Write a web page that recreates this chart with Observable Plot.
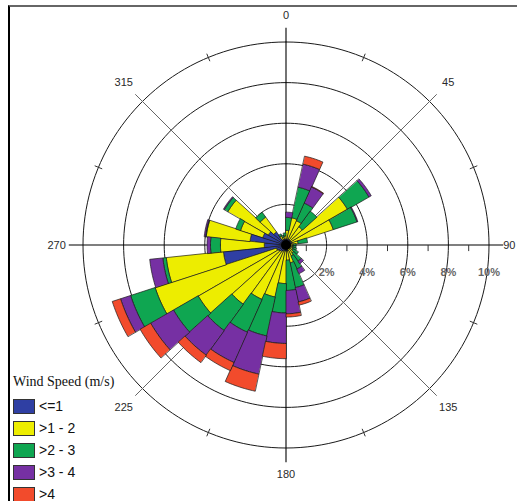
<!DOCTYPE html>
<html><head><meta charset="utf-8">
<script src="https://cdn.jsdelivr.net/npm/d3@7"></script>
<script src="https://cdn.jsdelivr.net/npm/@observablehq/plot@0.6"></script>
<style>
body{margin:0;background:#fff;}
#wrap{position:relative;width:517px;height:501px;overflow:hidden;background:#fff;}
#frame{position:absolute;left:8px;top:5px;right:-10px;bottom:-10px;border-left:2px solid #000;border-top:2px solid #666;pointer-events:none;}
#legend{position:absolute;left:13px;top:373px;font-family:"Liberation Sans",Arial,sans-serif;}
#legend .title{font-family:"Liberation Serif","Times New Roman",serif;font-size:14px;color:#111;height:22px;line-height:18px;}
#legend .row{display:flex;align-items:center;height:22.1px;}
#legend .sw{width:20px;height:13px;border:1px solid #333;margin-right:4px;}
#legend .lab{font-size:14px;color:#111;}
</style></head><body>
<div id="wrap"><div id="chart"></div><div id="frame"></div><div id="legend"></div></div>
<script>
// direction bins (start angle, degrees clockwise from north), 12 degrees wide
const directions = [0,12,24,36,48,60,72,84,96,108,120,132,144,156,168,180,192,204,216,228,240,252,264,276,288,300,312,324,336,348];
const binWidth = 12;
const speedClasses = ["<=1", ">1 - 2", ">2 - 3", ">3 - 4", ">4"];
const classColors = ["#2f3fa3", "#eded00", "#0fa651", "#7630a3", "#f24b2c"];
// frequency (%) per speed class, per direction bin
const speedLe1 = [0.3,0.3,0.3,0.3,0.3,0.3,0.3,0.2,0.2,0.2,0.2,0.2,0.2,0.3,0.3,0.3,0.3,0.35,0.4,0.45,0.5,3.1,1.07,1.78,1.2,1.0,0.8,0.3,0.3,0.3];
const speed1to2 = [0.42,1.07,1.0,0.8,3.2,2.15,0.3,0.15,0.15,0.15,0.2,0.3,0.4,0.6,0.45,1.6,2.32,2.58,3.2,4.55,6.28,2.83,2.16,2.17,1.15,2.3,0.9,0.2,0.1,0.15];
const speed2to3 = [0.64,1.54,0.95,0.95,1.22,1.23,0.47,0.15,0.15,0.2,0.3,0.5,0.7,1.25,1.49,1.45,1.96,1.77,1.6,1.4,1.27,0.17,0.49,0.03,0.25,0.2,0.3,0.1,0.1,0.15];
const speed3to4 = [0.26,1.16,0.87,0,0.13,0.04,0,0,0,0,0,0.15,0.25,0.72,1.15,1.5,1.92,1.63,1.5,1.3,0.52,0.65,0.17,0.07,0,0.05,0,0,0,0];
const speedGt4 = [0,0.40,0.03,0,0,0,0,0,0,0,0,0,0,0.16,0.16,0.75,0.86,0.44,0.45,0.6,0.43,0,0,0,0,0,0,0,0,0];
const series = [speedLe1, speed1to2, speed2to3, speed3to4, speedGt4];
// rings and labels
const ringValues = [2,4,6,8,10];
const ringLabels = ["2%","4%","6%","8%","10%"];
const angleLabels = [0,45,90,135,180,225,270,315];
const minorTicks = [1,3,5,7,9];

const rad = d => d * Math.PI / 180;
const px = (r, a) => r * Math.sin(rad(a));
const py = (r, a) => r * Math.cos(rad(a));

// build wedge polygons through stacking
const wedges = series.map(() => []);
directions.forEach((dir, i) => {
  let base = 0;
  series.forEach((s, k) => {
    const v = s[i];
    if (v > 0) {
      const r0 = base, r1 = base + v, id = k + "-" + i;
      const n = 12;
      for (let j = 0; j <= n; j++) { const a = dir + binWidth * j / n; wedges[k].push({id, x: px(r1, a), y: py(r1, a)}); }
      if (r0 > 0) for (let j = n; j >= 0; j--) { const a = dir + binWidth * j / n; wedges[k].push({id, x: px(r0, a), y: py(r0, a)}); }
      else wedges[k].push({id, x: 0, y: 0});
    }
    base += v;
  });
});

const ringPts = [];
ringValues.forEach(r => { for (let a = 0; a <= 360; a += 2) ringPts.push({r, x: px(r, a), y: py(r, a)}); });

const S = 20.3, cx = 285.5, cy = 244.5, W = 517, H = 501;
const axisLen = 10.7, diagLen = 10.5;
const spokes = angleLabels.map(a => ({a, len: a % 90 === 0 ? axisLen : diagLen}));
const outerTicks = d3.range(22.5, 360, 45);
const labelR = a => a === 90 ? 11.0 : 11.3;

const chart = Plot.plot({
  width: W, height: H, margin: 0,
  x: {domain: [-cx / S, (W - cx) / S], axis: null},
  y: {domain: [-(H - cy) / S, cy / S], axis: null},
  style: {background: "transparent"},
  marks: [
    Plot.line(ringPts, {x: "x", y: "y", z: "r", stroke: "#1a1a1a", strokeWidth: 1}),
    Plot.link(spokes.filter(d => d.a % 90 !== 0), {x1: 0, y1: 0, x2: d => px(d.len, d.a), y2: d => py(d.len, d.a), stroke: "#666", strokeWidth: 1}),
    Plot.link(spokes.filter(d => d.a % 90 === 0), {x1: 0, y1: 0, x2: d => px(d.len, d.a), y2: d => py(d.len, d.a), stroke: "#000", strokeWidth: 1.1}),
    Plot.link(outerTicks, {x1: a => px(9.8, a), y1: a => py(9.8, a), x2: a => px(10.2, a), y2: a => py(10.2, a), stroke: "#333", strokeWidth: 1}),
    Plot.link(minorTicks, {x1: d => d, y1: 0, x2: d => d, y2: -0.3, stroke: "#333", strokeWidth: 1}),
    ...wedges.map((w, k) => Plot.line(w, {x: "x", y: "y", z: "id", fill: classColors[k], stroke: "#1a1a1a", strokeWidth: 0.7, curve: "linear-closed"})),
    Plot.dot([0], {x: 0, y: 0, r: 5, fill: "#000"}),
    Plot.text(angleLabels, {x: a => px(labelR(a), a), y: a => py(labelR(a), a), text: a => String(a), fontSize: 11, fill: "#2a2a2a", fontFamily: "Liberation Sans, Arial, sans-serif"}),
    Plot.text(ringValues, {x: d => d, y: -1.35, text: (d, i) => ringLabels[i], fontSize: 11, fontWeight: "bold", fill: "#666", fontFamily: "Liberation Sans, Arial, sans-serif"})
  ]
});
document.getElementById("chart").appendChild(chart);

const leg = document.getElementById("legend");
leg.innerHTML = '<div class="title">Wind Speed (m/s)</div>' +
  speedClasses.map((c, k) => `<div class="row"><div class="sw" style="background:${classColors[k]}"></div><div class="lab">${c.replace("<","&lt;").replace(">","&gt;")}</div></div>`).join("");
</script>
</body></html>
